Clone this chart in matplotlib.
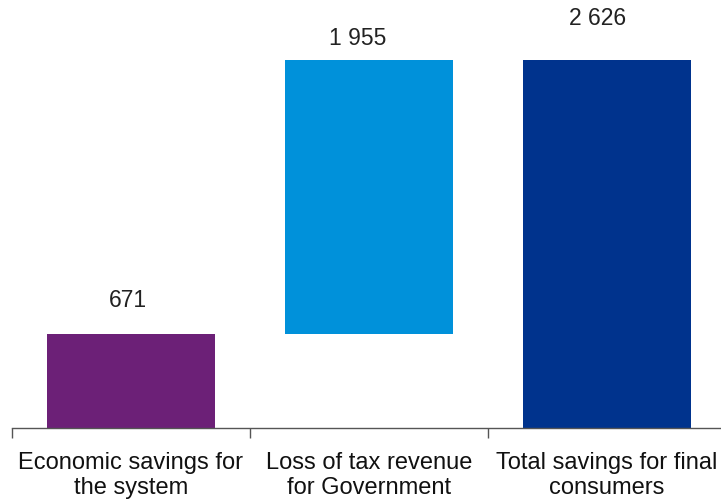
import matplotlib.pyplot as plt

plt.rcParams["font.family"] = ["Liberation Sans", "DejaVu Sans"]

categories = ["Economic savings for\nthe system", "Loss of tax revenue\nfor Government", "Total savings for final\nconsumers"]
values = [671, 1955, 2626]
bottoms = [0, 671, 0]
labels = ["671", "1 955", "2 626"]
colors = ["#6C2077", "#0091DA", "#00338D"]

# label offsets from bar top centre (points), as in the reference
label_dx = [-2, -8, -7]
label_dy = [24, 16, 30]

fig = plt.figure(figsize=(7.21, 4.99), dpi=100)
ax = fig.add_axes([12 / 721, 71 / 499, 714 / 721, 420 / 499])

x = range(len(categories))
ax.bar(x, values, bottom=bottoms, width=0.705, color=colors)

for i in x:
    ax.annotate(labels[i], (i, bottoms[i] + values[i]), xytext=(label_dx[i], label_dy[i]),
                textcoords="offset points", ha="center", va="center",
                fontsize=16.5, color="#222222")

ax.set_xlim(-0.5, 2.5)
ax.set_ylim(0, 3000)
ax.set_xticks([-0.5, 0.5, 1.5, 2.5])
ax.set_xticklabels([])
ax.set_xticks(list(x), minor=True)
ax.set_xticklabels(categories, minor=True, fontsize=17, color="#111111", linespacing=1.2)
ax.tick_params(axis="x", which="major", length=7, width=1, color="#555555", direction="out")
ax.tick_params(axis="x", which="minor", length=0, pad=17)
ax.set_yticks([])
for side in ["top", "right", "left"]:
    ax.spines[side].set_visible(False)
ax.spines["bottom"].set_color("#555555")
ax.spines["bottom"].set_linewidth(1)

fig.savefig("out.png", dpi=100)
